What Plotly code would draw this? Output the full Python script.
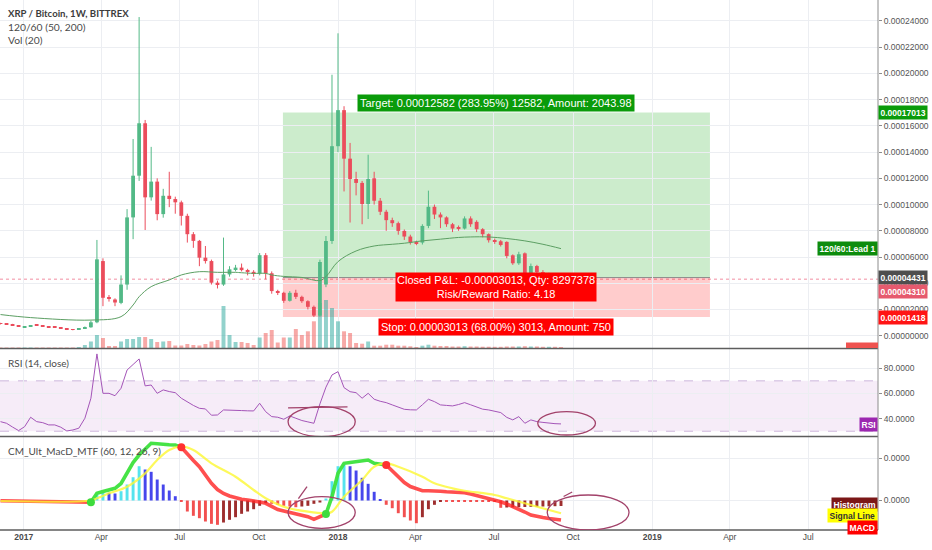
import numpy as np
import pandas as pd
import plotly.graph_objects as go

# ---------------- data ----------------
first_week = "2016-12-05"
n_weeks = 94
price_unit = 1e-5          # OHLC values below are in units of 0.00001 BTC

open_ = [0.95, 0.93, 0.86, 0.77, 0.62, 0.70, 0.80, 0.75, 0.68, 0.66,
         0.61, 0.50, 0.48, 0.46, 0.55, 0.64, 1.02, 5.69, 2.95, 2.76,
         2.50, 3.90, 9.02, 12.2, 16.2, 10.55, 11.75, 9.27, 10.67, 10.42,
         10.17, 9.14, 7.74, 7.23, 5.95, 5.69, 4.04, 3.90, 4.67, 5.06,
         5.19, 5.00, 4.87, 4.75, 6.14, 4.76, 3.40, 3.27, 2.66, 3.27,
         2.96, 2.63, 2.20, 1.53, 3.90, 7.22, 14.45, 17.20, 13.50, 11.95,
         11.65, 10.04, 12.00, 10.29, 9.45, 8.81, 8.58, 7.99, 7.56, 7.15,
         7.10, 8.37, 9.83, 9.24, 9.02, 8.50, 8.25, 8.17, 8.94, 8.68,
         8.12, 7.74, 7.28, 7.20, 7.15, 6.13, 5.52, 6.28, 4.75, 5.31,
         4.85, 4.55, 4.62, 4.35]
high = [0.98, 0.96, 0.90, 0.80, 0.70, 0.80, 0.84, 0.78, 0.70, 0.68,
        0.63, 0.53, 0.50, 0.55, 0.70, 1.15, 7.30, 5.90, 3.10, 2.85,
        4.60, 9.65, 15.0, 24.3, 16.45, 14.4, 12.0, 11.2, 12.5, 10.6,
        10.3, 9.3, 7.9, 7.3, 6.84, 5.8, 4.2, 7.48, 5.3, 5.4,
        5.5, 5.1, 5.0, 6.3, 6.3, 4.9, 3.5, 3.35, 3.4, 3.5,
        3.05, 2.7, 2.3, 5.8, 7.6, 19.9, 23.06, 17.5, 14.7, 12.5,
        11.8, 13.8, 12.5, 10.5, 9.6, 9.0, 8.7, 8.1, 7.7, 7.25,
        8.5, 11.06, 10.0, 9.4, 9.1, 8.6, 8.4, 9.1, 9.1, 8.8,
        8.2, 7.8, 7.4, 7.3, 7.2, 6.2, 6.4, 6.35, 5.5, 5.4,
        5.0, 4.8, 4.7, 4.5]
low = [0.86, 0.85, 0.76, 0.68, 0.60, 0.68, 0.74, 0.67, 0.61, 0.59,
       0.54, 0.43, 0.41, 0.44, 0.53, 0.60, 0.95, 2.25, 2.60, 2.25,
       2.40, 3.50, 7.36, 11.8, 8.06, 10.3, 8.8, 9.0, 9.8, 9.3,
       8.4, 7.1, 6.7, 5.3, 5.5, 3.9, 3.6, 3.8, 4.5, 4.9,
       4.9, 4.6, 4.5, 4.6, 4.3, 3.2, 3.1, 2.5, 2.6, 2.8,
       2.5, 2.0, 1.42, 1.45, 3.7, 7.0, 14.0, 11.0, 8.63, 10.7,
       8.5, 8.9, 10.0, 9.2, 8.0, 8.3, 7.7, 7.3, 6.95, 6.9,
       6.95, 8.2, 8.9, 8.2, 8.3, 7.9, 8.0, 8.1, 8.3, 7.9,
       7.5, 7.1, 7.0, 6.8, 5.9, 5.4, 5.4, 4.6, 4.6, 4.5,
       4.4, 4.3, 4.2, 4.25]
close = [0.90, 0.88, 0.79, 0.71, 0.67, 0.77, 0.77, 0.70, 0.64, 0.62,
         0.57, 0.46, 0.44, 0.52, 0.66, 1.02, 5.82, 2.89, 2.85, 2.53,
         3.90, 9.02, 12.2, 16.2, 10.55, 11.75, 9.27, 10.67, 10.42, 10.17,
         9.14, 7.74, 7.23, 5.95, 5.69, 4.04, 3.90, 4.67, 5.06, 5.19,
         5.00, 4.87, 4.72, 6.14, 4.76, 3.40, 3.27, 2.66, 3.27, 2.96,
         2.63, 2.20, 1.53, 5.62, 7.22, 14.45, 17.20, 13.50, 11.95, 11.65,
         10.04, 11.95, 10.29, 9.45, 8.81, 8.58, 7.99, 7.56, 7.10, 7.05,
         8.37, 9.83, 9.24, 9.02, 8.50, 8.17, 8.17, 8.94, 8.50, 8.12,
         7.74, 7.28, 7.15, 6.92, 6.08, 5.52, 6.21, 4.75, 5.31, 4.85,
         4.55, 4.62, 4.35, 4.31]
volume = [0.5, 0.5, 0.5, 0.5, 0.5, 0.5, 0.5, 0.5, 0.5, 0.5,
          0.5, 0.5, 0.5, 1.0, 3.0, 6.5, 13.0, 10.0, 2.0, 2.0,
          6.5, 9.0, 9.0, 11.0, 11.0, 9.0, 6.0, 6.5, 7.0, 2.5,
          2.5, 4.0, 3.0, 2.5, 4.0, 6.5, 8.0, 42.0, 13.0, 6.0,
          6.0, 5.0, 3.0, 10.5, 15.0, 18.0, 5.5, 10.5, 10.5, 19.0,
          13.0, 16.7, 26.7, 45.0, 48.0, 40.0, 26.7, 16.7, 15.0, 5.0,
          4.3, 6.5, 2.3, 2.3, 3.3, 3.3, 2.3, 2.3, 1.7, 1.0,
          2.3, 3.3, 2.3, 2.0, 2.0, 1.5, 1.5, 1.8, 1.5, 1.5,
          1.3, 1.3, 1.2, 1.2, 1.5, 1.5, 1.5, 1.8, 1.5, 1.5,
          1.2, 1.2, 1.2, 1.0]

# "120/60" moving line (week index, value in 0.00001)
ma_idx = [0, 5, 15, 20, 22, 23, 25, 28, 30, 33, 36, 39, 40, 42, 44, 45, 47, 50,
          53, 54, 56, 59, 62, 65, 67, 70, 73, 76, 78, 81, 84, 87, 90, 93]
ma_val = [1.61, 1.38, 1.19, 1.45, 2.34, 2.97, 3.74, 4.25, 4.63, 4.88, 4.83, 4.83,
          4.80, 4.75, 4.75, 4.63, 4.52, 4.44, 4.20, 4.50, 5.65, 6.46, 6.84, 6.97,
          7.05, 7.23, 7.36, 7.49, 7.53, 7.53, 7.41, 7.23, 6.97, 6.64]

rsi = [37.6, 36.3, 33.3, 30.5, 33.6, 41.1, 37.6, 36.8, 35.0, 35.0,
       33.2, 30.2, 31.0, 32.4, 40.3, 56.2, 91.4, 60.1, 60.1, 58.2,
       64.1, 78.6, 83.0, 87.4, 66.0, 66.7, 60.1, 62.8, 61.5, 60.6,
       56.2, 53.0, 50.5, 48.2, 47.7, 42.7, 42.9, 46.9, 46.9, 46.6,
       46.4, 46.2, 46.1, 52.2, 45.5, 41.6, 41.1, 39.5, 42.1, 40.3,
       38.5, 37.4, 36.3, 51.7, 65.0, 74.7, 77.3, 64.6, 61.4, 60.6,
       56.2, 60.1, 55.4, 53.8, 52.7, 50.9, 49.0, 47.4, 47.0, 46.9,
       51.0, 55.4, 53.5, 50.9, 50.5, 50.1, 51.2, 52.7, 51.0, 49.5,
       47.5, 46.9, 45.6, 44.8, 41.0, 39.0, 41.6, 36.3, 39.0, 37.6,
       37.0, 36.3, 36.0, 35.8]
rsi_upper, rsi_lower = 70, 30

# MACD (values in units of 1/42 of 0.00001)
macd_unit = 1e-5 / 42
macd_idx = [0, 14, 15, 16, 17, 18, 19, 20, 21, 22, 23, 24, 25, 26, 27, 28, 29, 30,
            31, 32, 33, 34, 35, 36, 37, 38, 39, 40, 41, 42, 43, 44, 45, 46, 47, 48,
            49, 50, 51, 52, 53, 54, 55, 56, 57, 58, 59, 60, 61, 62, 63, 64, 65, 66,
            67, 68, 69, 70, 71, 72, 73, 74, 75, 76, 77, 78, 79, 80, 81, 82, 83, 84,
            85, 86, 87, 88, 89, 90, 91, 92, 93]
macd_val = [-0.2, -1.8, -1.8, 7.2, 9.0, 10.5, 12.2, 17.0, 27.2, 38.0, 45.5, 52.0,
            57.2, 56.8, 56.0, 55.8, 55.5, 53.2, 47.2, 40.0, 33.8, 25.0, 17.2, 11.0,
            7.0, 4.5, 2.5, 1.2, 0.5, -0.2, -1.5, -2.8, -6.0, -9.0, -10.5, -12.0,
            -12.8, -14.5, -16.2, -18.8, -16.0, -13.5, 3.8, 27.2, 37.2, 38.0, 38.8,
            40.0, 40.5, 37.2, 36.5, 35.5, 30.0, 23.8, 18.0, 14.0, 12.2, 9.8, 9.8,
            9.8, 9.3, 8.8, 8.5, 8.1, 7.8, 6.5, 5.0, 3.8, 2.0, 0.5, -1.2, -3.5,
            -6.0, -8.5, -11.5, -14.5, -16.0, -17.0, -18.0, -19.0, -19.5]
signal_idx = [0, 15, 16, 18, 21, 24, 26, 28, 30, 32, 35, 39, 42, 44, 47, 51, 54,
              55, 57, 60, 62, 64, 66, 70, 72, 75, 77, 82, 84, 88, 93]
signal_val = [-0.5, 0.0, 2.2, 7.2, 13.8, 27.2, 40.5, 50.5, 53.8, 50.5, 37.2, 23.8,
              10.5, 2.2, -6.2, -11.2, -12.8, -11.2, 3.8, 20.5, 33.8, 37.2, 33.8,
              23.8, 17.2, 12.2, 9.8, 5.5, 2.2, -4.5, -12.8]
hist = [0, 0, 0, 0, 0, 0, 0, 0, 0, 0,
        0, 0, 0, 0, 0, 0, 6.0, 7.7, 7.7, 7.0,
        9.3, 16.0, 23.3, 34.3, 31.0, 28.7, 21.0, 16.0, 10.0, 4.3,
        -1.3, -11.0, -15.3, -17.7, -21.0, -23.3, -24.3, -22.0, -19.3, -16.7,
        -13.3, -11.0, -8.7, -5.3, -2.7, -3.3, -4.3, -5.3, -6.0, -6.7,
        -6.0, -5.3, -3.3, -2.0, 2.0, 19.3, 34.3, 36.0, 34.3, 30.0,
        22.7, 16.7, 8.7, 1.0, -4.3, -7.7, -12.7, -16.7, -20.0, -22.7,
        -16.7, -8.7, -4.3, -1.3, -1.3, -1.3, -1.3, -1.3, -1.3, -1.3,
        -1.3, -1.3, -1.3, -7.3, -7.0, -6.8, -6.7, -6.5, -6.3, -6.2,
        -6.0, -5.8, -5.7, -5.5]
cross_up = [15, 54]
cross_down = [30, 64]

# long position drawing
entry_date, exit_date = "2017-10-29", "2019-03-09"
entry_price, target_price, stop_price = 0.00004431, 0.00017013, 0.00001418

x_tick_vals = ["2017-01-01", "2017-04-01", "2017-07-01", "2017-10-01", "2018-01-01",
               "2018-04-01", "2018-07-01", "2018-10-01", "2019-01-01", "2019-04-01",
               "2019-07-01"]
x_tick_text = ["<b>2017</b>", "Apr", "Jul", "Oct", "<b>2018</b>", "Apr", "Jul", "Oct",
               "<b>2019</b>", "Apr", "Jul"]

# ---------------- styling ----------------
UP, DOWN = "#53b987", "#eb4d5c"
VOL_UP, VOL_DOWN = "rgba(38,166,154,0.5)", "rgba(239,83,80,0.5)"
GRID = "#eceef2"
TXT = "#4a4a4a"
AX_FONT = dict(family="Liberation Sans, Arial", size=8.5, color="#555555")
LEG_FONT = "Lato, Open Sans, sans-serif"
DAY = 86400000

PH = 530


def py(px):
    return (PH - px) / PH


main_dom = [py(348), 1.0]
rsi_dom = [py(436), py(349)]
macd_dom = [0.0, py(437)]

weeks = pd.date_range(first_week, periods=n_weeks, freq="7D")
o = np.array(open_) * price_unit
h = np.array(high) * price_unit
l = np.array(low) * price_unit
c = np.array(close) * price_unit
up = c >= o

fig = go.Figure()

# volume (base axis y, hidden)
vol_colors = [VOL_UP if u else VOL_DOWN for u in up]
fig.add_trace(go.Bar(x=weeks, y=volume, width=4.6 * DAY, marker=dict(color=vol_colors, line_width=0),
                     yaxis="y", hoverinfo="skip", showlegend=False))


def wicks(mask):
    xs, ys = [], []
    for d, hi, lo in zip(weeks[mask], h[mask], l[mask]):
        xs += [d, d, None]
        ys += [lo, hi, None]
    return xs, ys


for mask, col in ((up, UP), (~up, DOWN)):
    wx, wy = wicks(mask)
    fig.add_trace(go.Scatter(x=wx, y=wy, mode="lines", line=dict(color=col, width=1),
                             yaxis="y2", hoverinfo="skip", showlegend=False))
    base = np.minimum(o, c)[mask]
    body = np.maximum(np.abs(c - o), 0.05 * price_unit)[mask]
    fig.add_trace(go.Bar(x=weeks[mask], y=body, base=base, width=4.4 * DAY,
                         marker=dict(color=col, line_width=0), yaxis="y2",
                         hoverinfo="skip", showlegend=False))

# 120/60 line
fig.add_trace(go.Scatter(x=weeks[ma_idx], y=np.array(ma_val) * price_unit, mode="lines",
                         line=dict(color="#5c9f63", width=1, shape="spline"), yaxis="y2",
                         hoverinfo="skip", showlegend=False))

# RSI
fig.add_trace(go.Scatter(x=weeks, y=rsi, mode="lines", line=dict(color="#a455b8", width=1),
                         yaxis="y3", hoverinfo="skip", showlegend=False))

# MACD histogram
AQUA, BLUE, RED, MAROON = "#55e3ee", "#4646ec", "#f25050", "#9e2e2e"
hcol = []
prev = 0
for v in hist:
    if v >= 0:
        hcol.append(AQUA if v > prev else BLUE)
    else:
        hcol.append(MAROON if v > prev else RED)
    prev = v
fig.add_trace(go.Bar(x=weeks, y=np.array(hist) * macd_unit, width=3.4 * DAY,
                     marker=dict(color=hcol, line_width=0), yaxis="y4",
                     hoverinfo="skip", showlegend=False))

# MACD line, coloured by state between crosses
events = sorted([(i, "up") for i in cross_up] + [(i, "down") for i in cross_down])
bounds = [0] + [e[0] for e in events] + [n_weeks - 1]
states = ["down" if events[0][1] == "up" else "up"] + [e[1] for e in events]
macd_idx_a = np.array(macd_idx)
macd_val_a = np.array(macd_val)
for k, st in enumerate(states):
    a, b = bounds[k], bounds[k + 1]
    sel = (macd_idx_a >= a) & (macd_idx_a <= b)
    col = "rgba(60,225,60,0.95)" if st == "up" else "rgba(255,35,35,0.8)"
    fig.add_trace(go.Scatter(x=weeks[macd_idx_a[sel]], y=macd_val_a[sel] * macd_unit, mode="lines",
                             line=dict(color=col, width=3.6), yaxis="y4",
                             hoverinfo="skip", showlegend=False))

# signal line (drawn over, semi-transparent)
fig.add_trace(go.Scatter(x=weeks[signal_idx], y=np.array(signal_val) * macd_unit, mode="lines",
                         line=dict(color="rgba(252,248,50,0.8)", width=2.2, shape="spline"), yaxis="y4",
                         hoverinfo="skip", showlegend=False))

macd_lookup = dict(zip(macd_idx, macd_val))
for idxs, col in ((cross_up, "#3ddc3d"), (cross_down, "#ff3030")):
    fig.add_trace(go.Scatter(x=weeks[idxs], y=[macd_lookup[i] * macd_unit for i in idxs],
                             mode="markers", marker=dict(color=col, size=8), yaxis="y4",
                             hoverinfo="skip", showlegend=False))

# ---------------- shapes ----------------
shapes = []
shapes.append(dict(type="rect", xref="x", yref="y2", x0=entry_date, x1=exit_date,
                   y0=entry_price, y1=target_price, fillcolor="rgba(0,160,0,0.2)",
                   line_width=0, layer="below"))
shapes.append(dict(type="rect", xref="x", yref="y2", x0=entry_date, x1=exit_date,
                   y0=stop_price, y1=entry_price, fillcolor="rgba(255,0,0,0.2)",
                   line_width=0, layer="below"))
shapes.append(dict(type="line", xref="x", yref="y2", x0=entry_date, x1=exit_date,
                   y0=entry_price, y1=entry_price, line=dict(color="#8a8a8a", width=1), layer="below"))
shapes.append(dict(type="line", xref="paper", yref="y2", x0=0, x1=1,
                   y0=close[-1] * price_unit, y1=close[-1] * price_unit,
                   line=dict(color="#f28ea2", width=1, dash="dot"), layer="below"))
# RSI band
shapes.append(dict(type="rect", xref="paper", yref="y3", x0=0, x1=1, y0=rsi_lower, y1=rsi_upper,
                   fillcolor="rgba(156,39,176,0.09)", line_width=0, layer="below"))
for lv in (rsi_lower, rsi_upper):
    shapes.append(dict(type="line", xref="paper", yref="y3", x0=0, x1=1, y0=lv, y1=lv,
                       line=dict(color="#cdb6dc", width=1, dash="dash"), layer="below"))
# panel separators & right axis line
for ypx in (348.5, 436.5):
    shapes.append(dict(type="line", xref="paper", yref="paper", x0=0, x1=1, y0=py(ypx), y1=py(ypx),
                       line=dict(color="#5d5d5d", width=1.5)))
shapes.append(dict(type="line", xref="paper", yref="paper", x0=1, x1=1, y0=0, y1=1,
                   line=dict(color="#8c8c8c", width=1)))
shapes.append(dict(type="line", xref="paper", yref="paper", x0=0, x1=1, y0=0, y1=0,
                   line=dict(color="#5d5d5d", width=1.5)))
# "Volume" tag peeking at bottom of main panel
shapes.append(dict(type="rect", xref="paper", yref="paper", x0=(846) / 878, x1=1,
                   y0=py(348), y1=py(342.5), fillcolor="#ef5350", line_width=0))

# hand-drawn circles
HAND = dict(color="#a2426a", width=1.3)
rsi_loops = [("2017-11-04", "2018-01-21", 25.7, 49.5), ("2018-08-21", "2018-10-27", 27.0, 45.5)]
macd_loops = [("2017-11-04", "2018-01-21", -27.8, 3.8), ("2018-09-01", "2018-12-05", -29.5, 5.5)]
for x0, x1, y0, y1 in rsi_loops:
    shapes.append(dict(type="circle", xref="x", yref="y3", x0=x0, x1=x1, y0=y0, y1=y1, line=HAND))
for x0, x1, y0, y1 in macd_loops:
    shapes.append(dict(type="circle", xref="x", yref="y4", x0=x0, x1=x1, y0=y0 * macd_unit,
                       y1=y1 * macd_unit, line=HAND))
shapes.append(dict(type="line", xref="x", yref="y3", x0="2017-11-04", x1="2018-01-12", y0=48.6, y1=49.4,
                   line=HAND))
shapes.append(dict(type="line", xref="x", yref="y4", x0="2017-11-26", x1="2017-11-16",
                   y0=13.8 * macd_unit, y1=2.0 * macd_unit, line=HAND))
shapes.append(dict(type="line", xref="x", yref="y4", x0="2018-09-20", x1="2018-09-30",
                   y0=4.0 * macd_unit, y1=8.5 * macd_unit, line=HAND))

# ---------------- annotations ----------------
ann = []


def legend_text(text, ypx, bold=False, size=10):
    ann.append(dict(text=f"<b>{text}</b>" if bold else text, xref="paper", yref="paper", x=0, xshift=6,
                    y=py(ypx), xanchor="left", yanchor="middle", showarrow=False,
                    font=dict(family=LEG_FONT, size=size, color="#3c3c3c" if bold else TXT)))


legend_text("XRP / Bitcoin, 1W, BITTREX", 13.3, bold=True, size=9.6)
legend_text("120/60 (50, 200)", 26.7, size=10.3)
legend_text("Vol (20)", 40.0, size=10.3)
legend_text("RSI (14, close)", 362.7)
legend_text("CM_Ult_MacD_MTF (60, 12, 26, 9)", 450.7)

mid_date = pd.Timestamp(entry_date) + (pd.Timestamp(exit_date) - pd.Timestamp(entry_date)) / 2
BOX_FONT = dict(family="Liberation Sans, Arial", size=11, color="white")
ann.append(dict(text="Target: 0.00012582 (283.95%) 12582, Amount: 2043.98", xref="x", yref="y2",
                x=mid_date, y=target_price, yanchor="bottom", yshift=1, showarrow=False,
                bgcolor="#0a9b0a", borderpad=2, font=BOX_FONT))
ann.append(dict(text="Closed P&L: -0.00003013, Qty: 8297378<br>Risk/Reward Ratio: 4.18", xref="x",
                yref="y2", x=mid_date, y=entry_price, yanchor="top", yshift=6, showarrow=False,
                bgcolor="#ff0000", borderpad=1, font=BOX_FONT))
ann.append(dict(text="Stop: 0.00003013 (68.00%) 3013, Amount: 750", xref="x", yref="y2",
                x=mid_date, y=stop_price, yanchor="top", yshift=-1, showarrow=False,
                bgcolor="#ff0000", borderpad=2, font=BOX_FONT))

TAG_FONT = dict(family="Liberation Sans, Arial", size=8.5, color="white")


def axis_tag(text, yref, yval, bg, fcolor="white", yshift=0, anchor="left"):
    ann.append(dict(text=f"<b>{text}</b>", xref="paper", yref=yref, x=1, y=yval,
                    xanchor=anchor, yanchor="middle", yshift=yshift, showarrow=False,
                    bgcolor=bg, borderpad=1.5, font=dict(TAG_FONT, color=fcolor)))


axis_tag(f"{target_price:.8f}", "y2", target_price, "#0a9b0a")
axis_tag(f"{entry_price:.8f}", "y2", entry_price, "#4e4e4e")
axis_tag(f"{close[-1] * price_unit:.8f}", "y2", close[-1] * price_unit, "#e65a6e", yshift=-12)
axis_tag(f"{stop_price:.8f}", "y2", stop_price, "#ff1414")
axis_tag("120/60:Lead 1", "y2", ma_val[-1] * price_unit, "#0d8c0d", anchor="right")
axis_tag("RSI", "paper", py(425), "#9c27b0", anchor="right")
axis_tag("Histogram", "paper", py(504), "#7b1717", anchor="right")
axis_tag("Signal Line", "paper", py(515.5), "#ffff00", fcolor="#333333", anchor="right")
axis_tag("MACD", "paper", py(527), "#ff0000", anchor="right")

# ---------------- layout ----------------
fig.update_layout(
    width=932, height=550,
    margin=dict(l=0, r=54, t=0, b=20),
    paper_bgcolor="white", plot_bgcolor="white",
    barmode="overlay", showlegend=False,
    shapes=shapes, annotations=ann,
    xaxis=dict(type="date", range=["2016-12-04 10:00", "2019-09-20 04:00"], anchor="y4",
               tickvals=x_tick_vals, ticktext=x_tick_text, showgrid=True, gridcolor=GRID,
               tickfont=dict(family="Liberation Sans, Arial", size=8.5, color=TXT),
               zeroline=False, showline=False, ticks=""),
    yaxis=dict(domain=main_dom, range=[0, 348], visible=False, showgrid=False),
    yaxis2=dict(domain=main_dom, overlaying="y", side="right", anchor="x",
                range=[-0.94e-5, 25.6e-5], tickvals=[k * 2e-5 for k in range(13)],
                tickformat=".8f", showgrid=True, gridcolor=GRID, zeroline=False,
                ticks="outside", ticklen=3, tickcolor="#8c8c8c", tickfont=AX_FONT),
    yaxis3=dict(domain=rsi_dom, side="right", anchor="x", range=[26.2, 95.3],
                tickvals=[40, 60, 80], tickformat=".4f", showgrid=True, gridcolor=GRID,
                zeroline=False, ticks="outside", ticklen=3, tickcolor="#8c8c8c", tickfont=AX_FONT),
    yaxis4=dict(domain=macd_dom, side="right", anchor="x", range=[-7.02e-6, 1.512e-5],
                tickvals=[0, 1e-5], tickformat=".4f", showgrid=True, gridcolor=GRID,
                zeroline=False, ticks="outside", ticklen=3, tickcolor="#8c8c8c", tickfont=AX_FONT),
)

fig.write_html("out.html", config={"displayModeBar": False},
               post_script="document.body.style.margin='0';document.body.style.overflow='hidden';")
